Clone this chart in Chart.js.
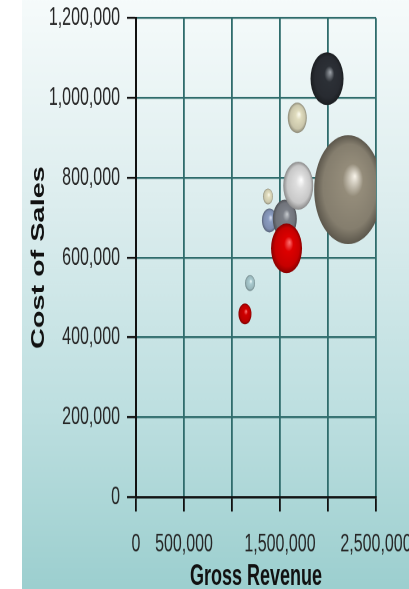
<!DOCTYPE html>
<html>
<head>
<meta charset="utf-8">
<script src="https://cdn.jsdelivr.net/npm/chart.js@4/dist/chart.umd.min.js"></script>
<style>
    html { overflow: hidden; }
    body { margin: 0; padding: 0; background: #ffffff; height: 589px; }
    #grafico-bolhas { display: block; transform: scaleY(1.6005); transform-origin: 0 0; }
</style>
</head>
<body>
<canvas id="grafico-bolhas" width="409" height="368"></canvas>
<script>
// Dados de cada bolha (ordem = ordem de desenho, de trás para frente)
const grossRevenue = [1135000, 1188000, 1390000, 1550000, 1568000, 1375000, 1690000, 2210000, 1680000, 1990000];
const costOfSales  = [ 459000,  536000,  693000,  697000,  623000,  753000,  780000,  770000,  950000, 1048000];
const bubbleRadius = [6.5, 5, 7.5, 12, 15.5, 5, 15, 34, 9.5, 16.5];

// Cor base e brilho de cada esfera
const baseColors  = ['#d00000', '#aacbd0', '#8c9ec2', '#7c8088', '#dd0000', '#e2dec0', '#dedede', '#948c7a', '#e0dcbe', '#2c3036'];
const lightColors = ['#ff8080', '#f4ffff', '#dde6f6', '#c8ccd0', '#ff7474', '#fffff4', '#ffffff', '#f8f4ea', '#fffff4', '#a0a6ac'];

// Eixos
const yTicks = [0, 200000, 400000, 600000, 800000, 1000000, 1200000];
const xTicksShown = [0, 500000, 1500000, 2500000];

const pontos = grossRevenue.map((x, i) => ({ x: x, y: costOfSales[i], r: bubbleRadius[i] }));

function formatar(v) {
    return v.toLocaleString('en-US');
}

function escurecer(hex, f) {
    const n = parseInt(hex.slice(1), 16);
    const r = Math.round(((n >> 16) & 255) * f);
    const g = Math.round(((n >> 8) & 255) * f);
    const b = Math.round((n & 255) * f);
    return `rgb(${r}, ${g}, ${b})`;
}

// Gradiente radial para dar aspecto de esfera
function corEsfera(context) {
    if (context.type !== 'data') return '#888888';
    const chart = context.chart;
    const i = context.dataIndex;
    const p = context.raw;
    const cx = chart.scales.x.getPixelForValue(p.x);
    const cy = chart.scales.y.getPixelForValue(p.y);
    const r = p.r;
    if (!isFinite(cx) || !isFinite(cy)) return baseColors[i];
    const g = chart.ctx.createRadialGradient(cx + r * 0.2, cy - r * 0.25, 0, cx, cy, r);
    g.addColorStop(0, lightColors[i]);
    g.addColorStop(0.3, baseColors[i]);
    g.addColorStop(0.78, escurecer(baseColors[i], 0.9));
    g.addColorStop(1, escurecer(baseColors[i], 0.62));
    return g;
}

// Fundo em degradê (branco no topo, verde-água embaixo)
const fundoPlugin = {
    id: 'fundo',
    beforeDraw(chart) {
        const ctx = chart.ctx;
        const h = chart.height;
        ctx.save();
        ctx.fillStyle = '#ffffff';
        ctx.fillRect(0, 0, chart.width, h);
        const grad = ctx.createLinearGradient(0, 0, 0, h);
        grad.addColorStop(0, '#f6fbfb');
        grad.addColorStop(0.35, '#dcedee');
        grad.addColorStop(0.7, '#bddfe0');
        grad.addColorStop(1, '#9ccfcf');
        ctx.fillStyle = grad;
        ctx.fillRect(22, 0, chart.width - 22, h);
        ctx.restore();
    }
};

const fonteTicks = { family: "'Liberation Sans', Arial, sans-serif", size: 16 };

new Chart(document.getElementById('grafico-bolhas'), {
    type: 'bubble',
    data: {
        datasets: [{
            data: pontos,
            backgroundColor: corEsfera,
            borderWidth: 0,
            hoverBorderWidth: 0
        }]
    },
    options: {
        responsive: false,
        devicePixelRatio: 2,
        animation: false,
        events: [],
        layout: { autoPadding: false, padding: { top: 11.25, right: 33, bottom: 0, left: 0 } },
        plugins: {
            legend: { display: false },
            tooltip: { enabled: false }
        },
        scales: {
            x: {
                type: 'linear',
                min: 0,
                max: 2500000,
                afterBuildTicks(scale) {
                    scale.ticks = [0, 500000, 1000000, 1500000, 2000000, 2500000].map(v => ({ value: v }));
                },
                afterFit(scale) {
                    scale.height = 57.4;
                    scale.paddingLeft = 0;
                    scale.paddingRight = 0;
                },
                grid: { color: '#2f6c6c', lineWidth: 1.8, tickColor: '#111111', tickLength: 9, tickWidth: 1.8 },
                border: { color: '#111111', width: 1.4 },
                ticks: {
                    autoSkip: false,
                    maxRotation: 0,
                    padding: 11,
                    color: '#262626',
                    font: fonteTicks,
                    callback: v => xTicksShown.includes(v) ? formatar(v) : ''
                },
                title: {
                    display: true,
                    text: 'Gross Revenue',
                    color: '#111111',
                    font: { family: "'Liberation Sans', Arial, sans-serif", size: 18, weight: 'bold', lineHeight: 1 },
                    padding: { top: 0, bottom: -1.5 }
                }
            },
            y: {
                type: 'linear',
                min: 0,
                max: 1200000,
                afterBuildTicks(scale) {
                    scale.ticks = yTicks.map(v => ({ value: v }));
                },
                afterFit(scale) {
                    scale.width = 136;
                    scale.paddingTop = 0;
                    scale.paddingBottom = 0;
                },
                grid: { color: '#2f6c6c', lineWidth: 1.2, tickColor: '#111111', tickLength: 9, tickWidth: 1.3 },
                border: { color: '#111111', width: 2 },
                ticks: {
                    padding: 7,
                    color: '#262626',
                    font: fonteTicks,
                    callback: v => formatar(v)
                },
                title: {
                    display: true,
                    text: 'Cost of Sales',
                    color: '#111111',
                    font: { family: "'Liberation Sans', Arial, sans-serif", size: 18, weight: 'bold', lineHeight: 1 },
                    padding: { top: 30, bottom: 0 }
                }
            }
        }
    },
    plugins: [fundoPlugin]
});
</script>
</body>
</html>
